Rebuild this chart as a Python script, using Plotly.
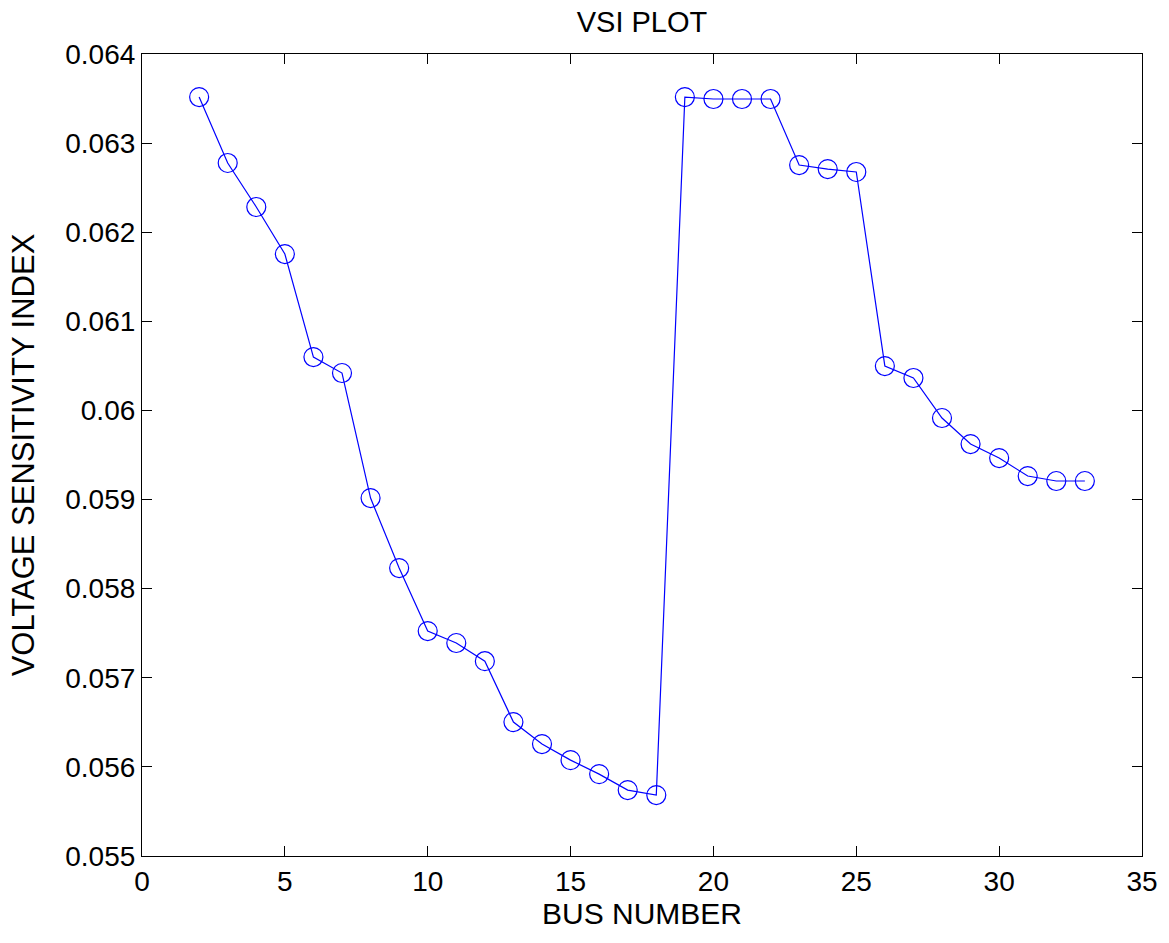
import plotly.graph_objects as go

# Bus numbers and voltage sensitivity index per bus
bus_number = list(range(2, 34))
vsi = [
    0.063517, 0.062777, 0.062283, 0.061755, 0.060599, 0.060420, 0.059017,
    0.058231, 0.057524, 0.057390, 0.057186, 0.056503, 0.056256, 0.056076,
    0.055919, 0.055740, 0.055684, 0.063517, 0.063495, 0.063495, 0.063495,
    0.062754, 0.062709, 0.062676, 0.060498, 0.060364, 0.059915, 0.059623,
    0.059466, 0.059264, 0.059208, 0.059208,
]

x_ticks = [0, 5, 10, 15, 20, 25, 30, 35]
y_ticks = [0.055, 0.056, 0.057, 0.058, 0.059, 0.060, 0.061, 0.062, 0.063, 0.064]
y_tick_text = ["0.055", "0.056", "0.057", "0.058", "0.059", "0.06",
               "0.061", "0.062", "0.063", "0.064"]

FONT = "Liberation Sans, Arial, sans-serif"
BLUE = "#0000ff"

fig = go.Figure()
fig.add_trace(go.Scatter(
    x=bus_number,
    y=vsi,
    mode="lines+markers",
    line=dict(color=BLUE, width=1.2),
    marker=dict(symbol="circle-open", size=19, color=BLUE,
                line=dict(color=BLUE, width=1.2)),
    showlegend=False,
))

fig.update_layout(
    width=1169,
    height=943,
    margin=dict(l=142, r=27, t=54, b=87),
    paper_bgcolor="white",
    plot_bgcolor="white",
    font=dict(family=FONT, size=28, color="black"),
    title=dict(text="VSI PLOT", x=0.5, xref="paper", xanchor="center",
               y=1 - 22 / 943, yanchor="middle",
               font=dict(family=FONT, size=29, color="black")),
)

fig.update_xaxes(
    range=[0, 35],
    tickvals=x_ticks,
    ticks="inside",
    ticklen=10,
    tickwidth=1,
    tickcolor="black",
    showline=True,
    linecolor="black",
    linewidth=1.2,
    mirror="ticks",
    showgrid=False,
    zeroline=False,
    tickfont=dict(family=FONT, size=28),
    title=dict(text="BUS NUMBER", standoff=7,
               font=dict(family=FONT, size=30)),
)

fig.update_yaxes(
    range=[0.055, 0.064],
    tickvals=y_ticks,
    ticktext=y_tick_text,
    ticks="inside",
    ticklen=10,
    tickwidth=1,
    tickcolor="black",
    showline=True,
    linecolor="black",
    linewidth=1.2,
    mirror="ticks",
    showgrid=False,
    zeroline=False,
    tickfont=dict(family=FONT, size=28),
    title=dict(text="VOLTAGE SENSITIVITY INDEX", standoff=21,
               font=dict(family=FONT, size=31)),
)

fig.write_html("out.html")
